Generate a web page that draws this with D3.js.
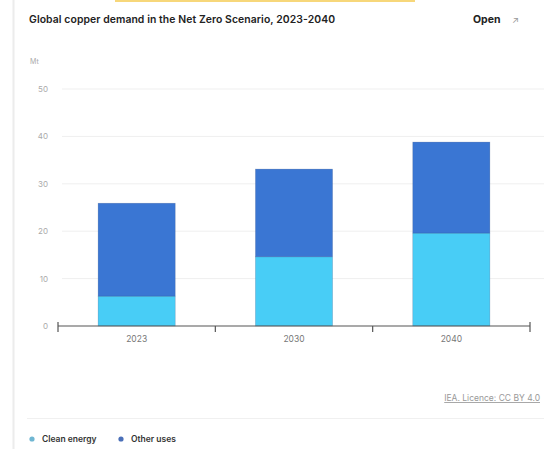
<!DOCTYPE html>
<html>
<head>
<meta charset="utf-8">
<script src="https://cdn.jsdelivr.net/npm/d3@7"></script>
<style>
  body { margin: 0; background: #fff; }
  svg { display: block; font-family: Inter, 'Open Sans', sans-serif; }
</style>
</head>
<body>
<div id="chart"></div>
<script>
const years = ['2023', '2030', '2040']
const cleanEnergy = [6.3, 14.6, 19.6]
const otherUses = [19.6, 18.5, 19.2]
const seriesNames = ['Clean energy', 'Other uses']
const yTicks = [0, 10, 20, 30, 40, 50]

const colors = ['#48cdf6', '#3a76d3']

const width = 544
const height = 449

const svg = d3.select('#chart')
  .append('svg')
  .attr('width', width)
  .attr('height', height)

// page chrome
svg.append('rect')
  .attr('x', 115).attr('y', 0)
  .attr('width', 300).attr('height', 2)
  .attr('fill', '#f7d77a')

svg.append('line')
  .attr('x1', 13.5).attr('x2', 13.5)
  .attr('y1', 0).attr('y2', height)
  .attr('stroke', '#ececec')
  .attr('stroke-width', 2)

svg.append('text')
  .attr('x', 29).attr('y', 23)
  .attr('font-size', 10.4)
  .attr('font-weight', 600)
  .attr('fill', '#222')
  .attr('textLength', 306)
  .text('Global copper demand in the Net Zero Scenario, 2023-2040')

svg.append('text')
  .attr('x', 473).attr('y', 23)
  .attr('font-size', 10.5)
  .attr('font-weight', 700)
  .attr('fill', '#222')
  .text('Open')

svg.append('text')
  .attr('x', 512).attr('y', 23)
  .attr('font-size', 9)
  .attr('fill', '#999')
  .text('\u2197')

svg.append('text')
  .attr('x', 30).attr('y', 64)
  .attr('font-size', 7)
  .attr('fill', '#aaa')
  .text('Mt')

// scales
const x = d3.scaleBand()
  .domain(years)
  .range([58, 530])
  .paddingInner(0)
  .paddingOuter(0)

const y = d3.scaleLinear()
  .domain([0, 50])
  .range([326, 89])

// gridlines + y labels
const grid = svg.append('g')
grid.selectAll('line')
  .data(yTicks.filter(d => d > 0))
  .enter()
  .append('line')
  .attr('x1', 62).attr('x2', 544)
  .attr('y1', d => y(d)).attr('y2', d => y(d))
  .attr('stroke', '#efefef')
  .attr('stroke-width', 1)

grid.selectAll('text')
  .data(yTicks)
  .enter()
  .append('text')
  .attr('x', 48)
  .attr('y', d => y(d) + 3)
  .attr('text-anchor', 'end')
  .attr('font-size', 8)
  .attr('fill', '#aaa')
  .text(d => d)

// stacked bars
const rows = years.map((yr, i) => ({ year: yr, 'Clean energy': cleanEnergy[i], 'Other uses': otherUses[i] }))
const stacked = d3.stack().keys(seriesNames)(rows)

const barW = x.bandwidth() * 0.49
svg.append('g')
  .selectAll('g')
  .data(stacked)
  .enter()
  .append('g')
  .attr('fill', (d, i) => colors[i])
  .selectAll('rect')
  .data(d => d)
  .enter()
  .append('rect')
  .attr('x', d => x(d.data.year) + (x.bandwidth() - barW) / 2)
  .attr('width', barW)
  .attr('y', d => y(d[1]))
  .attr('height', d => y(d[0]) - y(d[1]))
  .attr('stroke', 'rgba(40,70,120,0.35)')
  .attr('stroke-width', 0.6)

// x axis
const axis = svg.append('g')
axis.append('line')
  .attr('x1', 58).attr('x2', 530)
  .attr('y1', 326).attr('y2', 326)
  .attr('stroke', '#555')
  .attr('stroke-width', 1.2)

const bounds = years.map(d => x(d)).concat([x.range()[1]])
axis.selectAll('.tick')
  .data(bounds)
  .enter()
  .append('line')
  .attr('x1', d => d).attr('x2', d => d)
  .attr('y1', (d, i) => (i === 0 || i === bounds.length - 1) ? 322 : 326)
  .attr('y2', 332)
  .attr('stroke', '#555')
  .attr('stroke-width', 1.2)

axis.selectAll('text')
  .data(years)
  .enter()
  .append('text')
  .attr('x', d => x(d) + x.bandwidth() / 2)
  .attr('y', 342)
  .attr('text-anchor', 'middle')
  .attr('font-size', 8.5)
  .attr('fill', '#777')
  .text(d => d)

// source
svg.append('text')
  .attr('x', 540).attr('y', 401)
  .attr('text-anchor', 'end')
  .attr('font-size', 8.5)
  .attr('fill', '#999')
  .attr('text-decoration', 'underline')
  .text('IEA. Licence: CC BY 4.0')

svg.append('line')
  .attr('x1', 27).attr('x2', 544)
  .attr('y1', 418.5).attr('y2', 418.5)
  .attr('stroke', '#f0f0f0')

// legend
const legend = svg.append('g')
  .selectAll('g')
  .data(seriesNames)
  .enter()
  .append('g')
  .attr('transform', (d, i) => 'translate(' + [32, 121][i] + ',439)')

legend.append('circle')
  .attr('r', 2.6)
  .attr('fill', (d, i) => ['#6fb6d2', '#4a6fb8'][i])

legend.append('text')
  .attr('x', 10)
  .attr('y', 3)
  .attr('font-size', 8.5)
  .attr('font-weight', 600)
  .attr('fill', '#333')
  .text(d => d)
</script>
</body>
</html>
